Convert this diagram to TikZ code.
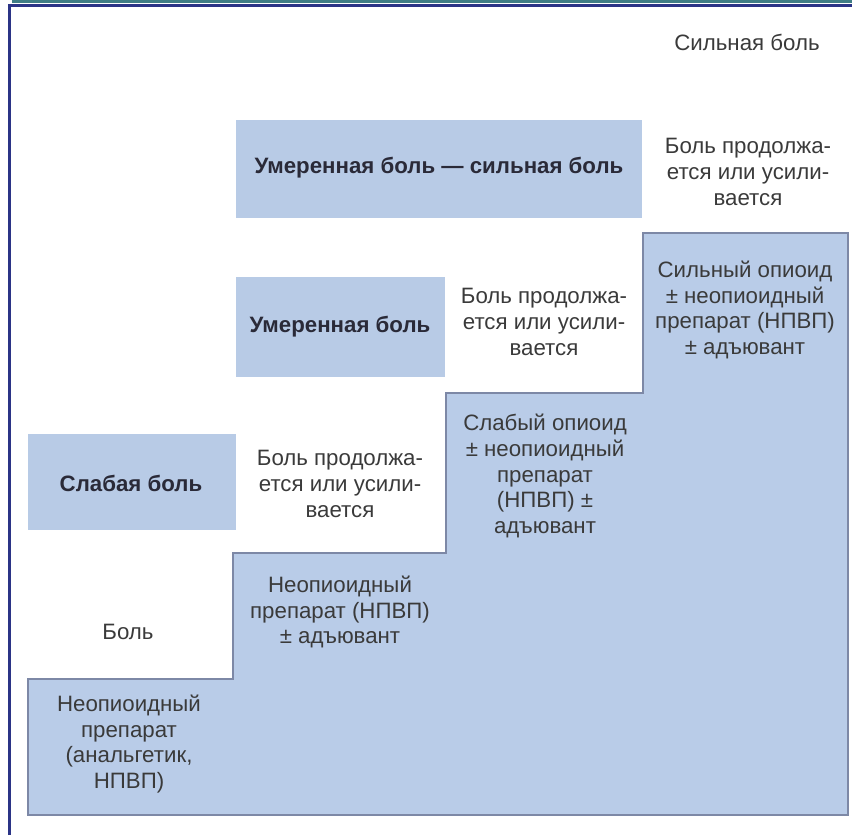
\documentclass[tikz,border=0pt]{standalone}
\usepackage{fontspec}
\setmainfont{Liberation Sans}
\usepackage{xcolor}
\definecolor{stepBlue}{HTML}{B9CCE8}
\definecolor{levelBlue}{HTML}{B8CBE6}
\definecolor{edgeGray}{HTML}{7D88A6}
\definecolor{frameNavy}{HTML}{2B3486}
\definecolor{frameTeal}{HTML}{3F7D84}
\definecolor{inkGray}{HTML}{3A3A3A}
\definecolor{inkDark}{HTML}{2A2A38}

\begin{document}
\begin{tikzpicture}[
    x=0.03cm, y=-0.03cm,
    txt/.style={align=center, inner sep=0pt, text=inkGray, font=\fontsize{19}{22}\selectfont},
    head/.style={txt, text=inkDark, font=\fontsize{19}{22}\selectfont\bfseries},
]
\useasboundingbox (0,0) rectangle (852,835);

% Frame
\fill[frameTeal] (12,0) rectangle (852,3);
\draw[frameNavy, line width=0.09cm] (9.5,835) -- (9.5,5) -- (852,5);

% Level boxes
\fill[levelBlue] (28,434) rectangle (236,530);
\fill[levelBlue] (236,277) rectangle (445,377);
\fill[levelBlue] (236,120) rectangle (642,218);

% Staircase
\draw[edgeGray, fill=stepBlue, line width=1.2pt]
    (28,815) |- (233,679) |- (446,553) |- (643,393) |- (848,233) -- (848,815) -- cycle;

% Levels
\node[head] (L1) at (131,483) {Слабая боль};
\node[head] (L2) at (340,327) {Умеренная боль};
\node[head] (L3) at (439,168) {Умеренная боль — сильная боль};
\node[txt] (L0) at (128,632) {Боль};
\node[txt] (L4) at (747,42) {Сильная боль};

% Pain persists
\node[txt] (C1) at (340,484) {Боль продолжа-\\ется или усили-\\вается};
\node[txt] (C2) at (544,322) {Боль продолжа-\\ется или усили-\\вается};
\node[txt] (C3) at (748,172) {Боль продолжа-\\ется или усили-\\вается};

% Steps
\node[txt] (S1) at (129,744) {Неопиоидный\\препарат\\(анальгетик,\\НПВП)};
\node[txt] (S2) at (340,612) {Неопиоидный\\препарат (НПВП)\\± адъювант};
\node[txt] (S3) at (545,476) {Слабый опиоид\\± неопиоидный\\препарат\\(НПВП) ±\\адъювант};
\node[txt] (S4) at (745,310) {Сильный опиоид\\± неопиоидный\\препарат (НПВП)\\± адъювант};

\end{tikzpicture}
\end{document}
